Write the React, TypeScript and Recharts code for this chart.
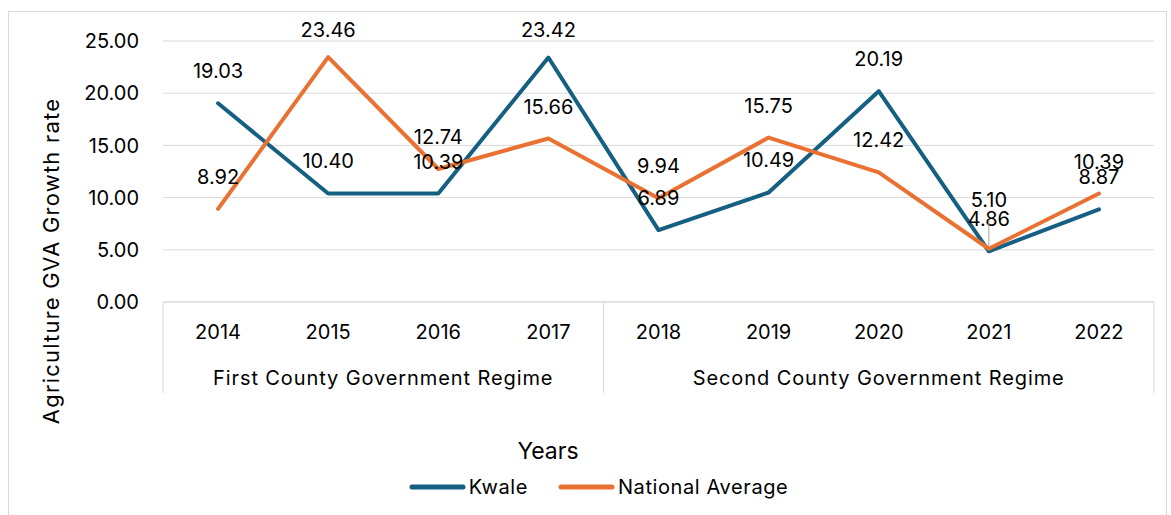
import React from 'react';
import { LineChart, Line, XAxis, YAxis, CartesianGrid, Legend, LabelList } from 'recharts';

const categories = ['2014', '2015', '2016', '2017', '2018', '2019', '2020', '2021', '2022'];
const kwale = [19.03, 10.4, 10.39, 23.42, 6.89, 10.49, 20.19, 4.86, 8.87];
const nationalAverage = [8.92, 23.46, 12.74, 15.66, 9.94, 15.75, 12.42, 5.1, 10.39];
const regimes = ['First County Government Regime', 'Second County Government Regime'];
const regimeOfCategory = [0, 0, 0, 0, 1, 1, 1, 1, 1];
const yTicks = [0, 5, 10, 15, 20, 25];

const data = categories.map((year, i) => ({
  year,
  kwale: kwale[i],
  national: nationalAverage[i],
  regime: regimes[regimeOfCategory[i]],
}));

const W = 1171;
const H = 515;
const MARGIN = { top: 41, right: 17, bottom: 0, left: 0 };
const Y_AXIS_W = 163;
const X_AXIS_H = 173;
const LEGEND_H = 40;
const PLOT_W = W - MARGIN.left - MARGIN.right - Y_AXIS_W;
const BAND = PLOT_W / categories.length;

const FONT = 'Inter, "Open Sans", "Liberation Sans", sans-serif';
const KWALE_COLOR = '#156082';
const NATIONAL_COLOR = '#E97132';
const GRID_COLOR = '#d9d9d9';
const TEXT_COLOR = '#000000';

const CategoryTick = (props: any) => {
  const { x, y, payload } = props;
  const i: number = payload.index ?? props.index;
  const g = regimeOfCategory[i];
  const first = i === 0 || regimeOfCategory[i - 1] !== g;
  const last = i === categories.length - 1 || regimeOfCategory[i + 1] !== g;
  const groupCount = regimeOfCategory.filter((r) => r === g).length;
  return (
    <g>
      <text
        x={x}
        y={y + 30}
        textAnchor="middle"
        dominantBaseline="central"
        fontSize={20}
        fontFamily={FONT}
        fill={TEXT_COLOR}
      >
        {payload.value}
      </text>
      {first && (
        <line x1={x - BAND / 2} x2={x - BAND / 2} y1={y} y2={y + 91} stroke={GRID_COLOR} strokeWidth={1} />
      )}
      {last && i === categories.length - 1 && (
        <line x1={x + BAND / 2} x2={x + BAND / 2} y1={y} y2={y + 91} stroke={GRID_COLOR} strokeWidth={1} />
      )}
      {first && (
        <text
          x={x + ((groupCount - 1) * BAND) / 2}
          y={y + 76}
          textAnchor="middle"
          dominantBaseline="central"
          fontSize={20}
          letterSpacing={0.9}
          fontFamily={FONT}
          fill={TEXT_COLOR}
        >
          {regimes[g]}
        </text>
      )}
    </g>
  );
};

const makeLabel = (leaderIndex: number | null) => (props: any) => {
  const { x, y, value, index } = props;
  const lift = index === leaderIndex ? 49 : 32;
  const cy = Math.max(y - lift, 30);
  return (
    <g>
      {index === leaderIndex && (
        <line x1={x} x2={x} y1={y - 2} y2={cy + 20} stroke="#a6a6a6" strokeWidth={1} />
      )}
      <text
        x={x}
        y={cy}
        textAnchor="middle"
        dominantBaseline="central"
        fontSize={20}
        fontFamily={FONT}
        fill={TEXT_COLOR}
      >
        {Number(value).toFixed(2)}
      </text>
    </g>
  );
};

const LegendContent = (props: any) => {
  const payload = props.payload || [];
  return (
    <div
      style={{
        width: W,
        height: LEGEND_H,
        boxSizing: 'border-box',
        paddingLeft: 26,
        display: 'flex',
        justifyContent: 'center',
        alignItems: 'flex-start',
      }}
    >
      <div style={{ display: 'flex', alignItems: 'center', height: 24 }}>
        {payload.map((entry: any, idx: number) => (
          <div key={idx} style={{ display: 'flex', alignItems: 'center', marginLeft: idx === 0 ? 0 : 30 }}>
            <svg width={57} height={8} style={{ display: 'block' }}>
              <line x1={3} x2={54} y1={4} y2={4} stroke={entry.color} strokeWidth={5} strokeLinecap="round" />
            </svg>
            <span
              style={{
                marginLeft: 3,
                fontFamily: FONT,
                fontSize: 20,
                letterSpacing: 0.6,
                color: TEXT_COLOR,
                lineHeight: '24px',
              }}
            >
              {entry.value}
            </span>
          </div>
        ))}
      </div>
    </div>
  );
};

export default function App() {
  return (
    <div style={{ position: 'absolute', left: 0, top: 0, width: W, height: H, overflow: 'hidden', background: '#fff' }}>
      <div
        style={{
          position: 'absolute',
          left: 8,
          top: 11,
          width: 1159,
          height: 520,
          border: `1px solid ${GRID_COLOR}`,
          boxSizing: 'border-box',
        }}
      />
      <div style={{ position: 'absolute', left: 0, top: 0 }}>
        <LineChart width={W} height={H} data={data} margin={MARGIN}>
          <CartesianGrid vertical={false} stroke={GRID_COLOR} strokeWidth={1} />
          <XAxis
            dataKey="year"
            interval={0}
            tickLine={false}
            tickSize={0}
            tickMargin={0}
            height={X_AXIS_H}
            padding={{ left: BAND / 2, right: BAND / 2 }}
            axisLine={{ stroke: GRID_COLOR, strokeWidth: 1 }}
            tick={<CategoryTick />}
            label={() => (
              <text
                x={548}
                y={451}
                textAnchor="middle"
                dominantBaseline="central"
                fontSize={23}
                fontFamily={FONT}
                fill={TEXT_COLOR}
              >
                Years
              </text>
            )}
          />
          <YAxis
            width={Y_AXIS_W}
            domain={[0, 25]}
            ticks={yTicks}
            interval={0}
            axisLine={false}
            tickLine={false}
            tickSize={0}
            tickMargin={24}
            tickFormatter={(v: number) => v.toFixed(2)}
            tick={{ fontSize: 20, fontFamily: FONT, fill: TEXT_COLOR }}
            label={() => (
              <text
                x={51}
                y={261}
                textAnchor="middle"
                dominantBaseline="central"
                fontSize={22}
                letterSpacing={1.2}
                fontFamily={FONT}
                fill={TEXT_COLOR}
                transform="rotate(-90 51 261)"
              >
                Agriculture GVA Growth rate
              </text>
            )}
          />
          <Legend
            verticalAlign="bottom"
            height={LEGEND_H}
            wrapperStyle={{ left: 0, width: W }}
            content={<LegendContent />}
          />
          <Line
            type="linear"
            dataKey="kwale"
            name="Kwale"
            stroke={KWALE_COLOR}
            strokeWidth={4}
            strokeLinecap="round"
            strokeLinejoin="round"
            dot={false}
            activeDot={false}
            isAnimationActive={false}
          >
            <LabelList dataKey="kwale" content={makeLabel(null)} />
          </Line>
          <Line
            type="linear"
            dataKey="national"
            name="National Average"
            stroke={NATIONAL_COLOR}
            strokeWidth={4}
            strokeLinecap="round"
            strokeLinejoin="round"
            dot={false}
            activeDot={false}
            isAnimationActive={false}
          >
            <LabelList dataKey="national" content={makeLabel(7)} />
          </Line>
        </LineChart>
      </div>
    </div>
  );
}
